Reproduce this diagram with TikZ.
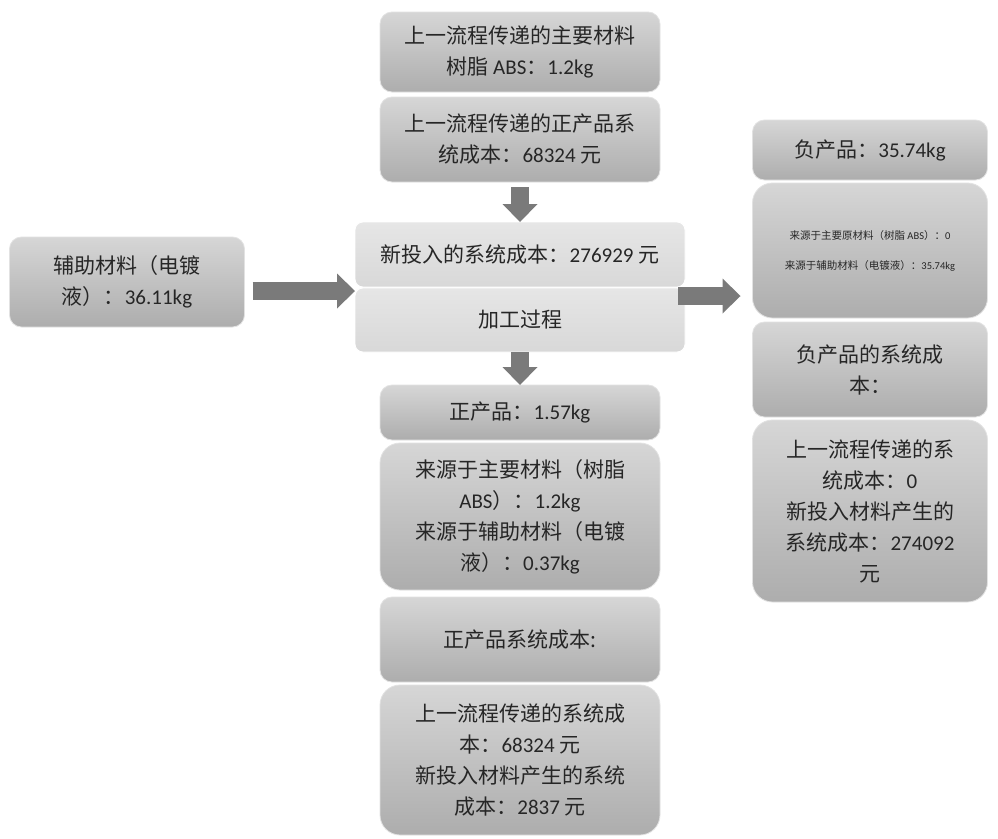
\documentclass[tikz,border=0pt]{standalone}
\usepackage{fontspec}
\setmainfont{Noto Sans CJK SC}
\newfontfamily\latinfont{Carlito}
\newcommand{\lat}[1]{{\latinfont #1}}
\usepackage{tikz}
\usetikzlibrary{positioning, calc, arrows.meta}
\definecolor{boxtop}{HTML}{D6D6D6}
\definecolor{boxbottom}{HTML}{ADADAD}
\definecolor{boxedge}{HTML}{E2E2E2}
\definecolor{proctop}{HTML}{E6E6E6}
\definecolor{procbottom}{HTML}{D8D8D8}
\definecolor{arrowgray}{HTML}{7A7A7A}
\definecolor{textdark}{HTML}{262626}

\begin{document}
\begin{tikzpicture}[
                x=1pt, y=-1pt,
                box/.style={rectangle, rounded corners=12pt, top color=boxtop, bottom color=boxbottom, draw=boxedge, line width=0.8pt, minimum width=280pt, align=center, text=textdark, font=\fontsize{21}{31}\selectfont, inner sep=0pt, outer sep=0pt},
                bigbox/.style={box, rounded corners=20pt},
                procbox/.style={box, rounded corners=8pt, top color=proctop, bottom color=procbottom, draw=white, minimum width=330pt},
                sidebox/.style={box, minimum width=235pt},
                sidebigbox/.style={bigbox, minimum width=235pt},
                smalltext/.style={font=\fontsize{10.5}{30}\selectfont},
                blockarrow/.style={draw=arrowgray, line width=18pt, -{Triangle[length=18pt, width=35pt, line width=0pt]}}
            ]%
            \fill[white] (0,0) rectangle (998,838);
            \useasboundingbox (0,0) rectangle (998,838);
            %
            % 中间一列
            \node[box, minimum height=80pt] (prevmat) at (520,52) {上一流程传递的主要材料\\树脂 \lat{ABS}：\lat{1.2kg}};
            \node[box, minimum height=85pt, below=5pt of prevmat] (prevcost) {上一流程传递的正产品系\\统成本：\lat{68324} 元};
            \node[procbox, minimum height=65pt, below=40pt of prevcost] (newcost) {新投入的系统成本：\lat{276929} 元};
            \node[procbox, minimum height=64pt, below=1pt of newcost] (process) {加工过程};
            \node[box, minimum height=55pt, below=33pt of process] (posmass) {正产品：\lat{1.57kg}};
            \node[bigbox, minimum height=147pt, below=3pt of posmass] (possrc) {来源于主要材料（树脂\\\lat{ABS}）：\lat{1.2kg}\\来源于辅助材料（电镀\\液）：\lat{0.37kg}};
            \node[box, minimum height=85pt, below=7pt of possrc] (poscost) {正产品系统成本:};
            \node[bigbox, minimum height=150pt, below=3pt of poscost] (poscostsrc) {上一流程传递的系统成\\本：\lat{68324} 元\\新投入材料产生的系统\\成本：\lat{2837} 元};
            %
            % 辅助材料
            \node[sidebox, minimum height=90pt] (aux) at (127,282) {辅助材料（电镀\\液）：\lat{36.11kg}};
            %
            % 右侧一列
            \node[sidebox, minimum height=60pt] (negmass) at (870,150) {负产品：\lat{35.74kg}};
            \node[sidebigbox, smalltext, minimum height=135pt, below=3pt of negmass] (negsrc) {来源于主要原材料（树脂 \lat{ABS}）：\lat{0}\\来源于辅助材料（电镀液）：\lat{35.74kg}};
            \node[sidebox, minimum height=95pt, below=4pt of negsrc] (negcost) {负产品的系统成\\本：};
            \node[sidebigbox, minimum height=182pt, below=3pt of negcost] (negcostsrc) {上一流程传递的系\\统成本：\lat{0}\\新投入材料产生的\\系统成本：\lat{274092}\\元};
            %
            % 箭头
            \draw[blockarrow, shorten <=5pt] (prevcost.south) -- (newcost.north);
            \draw[blockarrow] (process.south) -- (posmass.north);
            \draw[blockarrow] ($(aux.east |- process.north west)+(8,3)$) -- ($(process.north west)+(0,3)$);
            \draw[blockarrow] ($(process.north east)+(-7,8)$) -- ($(negsrc.west |- process.north east)+(-12,8)$);
        \end{tikzpicture}
\end{document}
